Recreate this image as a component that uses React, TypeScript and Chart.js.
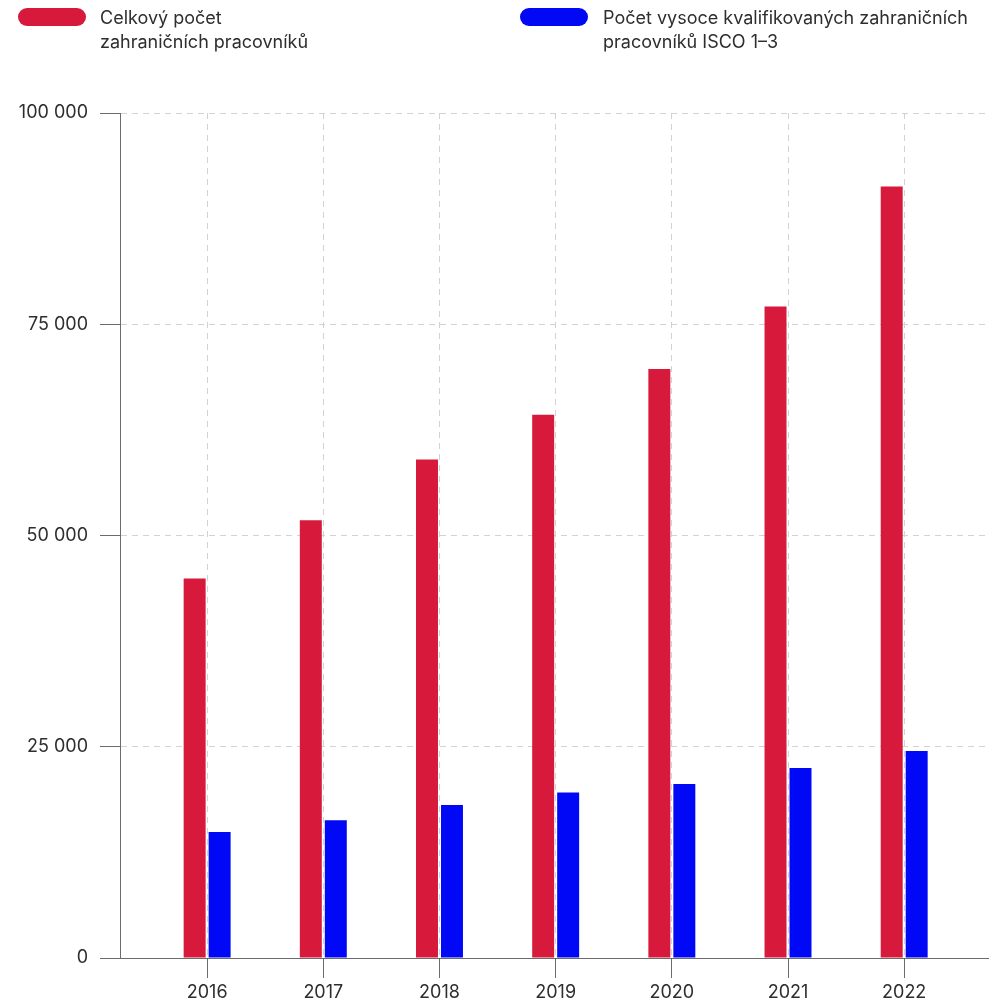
import React, { useEffect, useRef } from 'react';
import { Chart, registerables } from 'chart.js';

Chart.register(...registerables);

const years = ['2016', '2017', '2018', '2019', '2020', '2021', '2022'];
const totalWorkers = [44900, 51800, 59000, 64300, 69700, 77100, 91300];
const skilledWorkers = [14900, 16300, 18100, 19600, 20600, 22500, 24500];
const yTickStep = 25000;
const yMax = 100000;
const legendLabels = [
  ['Celkový počet', 'zahraničních pracovníků'],
  ['Počet vysoce kvalifikovaných zahraničních', 'pracovníků ISCO 1–3'],
];
const seriesColors = ['#d71a3b', '#0008f5'];

const FONT = 'Inter, "Noto Sans", sans-serif';
const TEXT = '#2e2e2e';
const AXIS = '#6b6b6b';
const GRID = '#d2d2d2';

const fmt = (v: number) => String(v).replace(/\B(?=(\d{3})+(?!\d))/g, ' ');

export default function App() {
  const ref = useRef<HTMLCanvasElement | null>(null);

  useEffect(() => {
    if (!ref.current) return;
    const chart = new Chart(ref.current, {
      type: 'bar',
      data: {
        labels: years,
        datasets: [
          {
            label: legendLabels[0].join(' '),
            data: totalWorkers,
            backgroundColor: seriesColors[0],
            categoryPercentage: 0.43,
            barPercentage: 0.88,
          },
          {
            label: legendLabels[1].join(' '),
            data: skilledWorkers,
            backgroundColor: seriesColors[1],
            categoryPercentage: 0.43,
            barPercentage: 0.88,
          },
        ],
      },
      options: {
        animation: false,
        responsive: false,
        maintainAspectRatio: false,
        layout: { padding: { top: 113, left: 0, right: 0, bottom: 0 } },
        plugins: {
          legend: { display: false },
          tooltip: { enabled: false },
        },
        scales: {
          x: {
            type: 'category',
            offset: true,
            afterBuildTicks: (scale: any) => {
              scale._startValue = -0.75;
              scale._valueRange = 7.48;
            },
            afterFit: (scale: any) => {
              scale.height = 43;
            },
            grid: {
              offset: false,
              color: GRID,
              tickColor: AXIS,
              tickLength: 20,
              tickWidth: 1,
              tickBorderDash: [],
            },
            border: { display: true, color: AXIS, width: 1, dash: [6, 5] },
            ticks: {
              color: TEXT,
              font: { family: FONT, size: 18 },
              padding: 4,
              maxRotation: 0,
            },
          },
          y: {
            min: 0,
            max: yMax,
            afterFit: (scale: any) => {
              scale.width = 120;
            },
            grid: {
              color: GRID,
              tickColor: AXIS,
              tickLength: 20,
              tickWidth: 1,
              tickBorderDash: [],
            },
            border: { display: true, color: AXIS, width: 1, dash: [6, 5] },
            ticks: {
              stepSize: yTickStep,
              color: TEXT,
              font: { family: FONT, size: 18 },
              padding: 12,
              callback: (v: any) => fmt(Number(v)),
            },
          },
        },
      },
    });
    return () => chart.destroy();
  }, []);

  const legendItem = (i: number, pillLeft: number, textLeft: number) => (
    <React.Fragment key={i}>
      <div
        style={{
          position: 'absolute',
          left: pillLeft,
          top: 8,
          width: 68,
          height: 18,
          borderRadius: 9,
          background: seriesColors[i],
        }}
      />
      <div
        style={{
          position: 'absolute',
          left: textLeft,
          top: 6,
          fontFamily: FONT,
          fontSize: 18,
          lineHeight: '24px',
          color: TEXT,
          whiteSpace: 'nowrap',
        }}
      >
        {legendLabels[i].map((l, j) => (
          <div key={j}>{l}</div>
        ))}
      </div>
    </React.Fragment>
  );

  return (
    <div
      style={{
        position: 'fixed',
        left: 0,
        top: 0,
        width: 989,
        height: 1001,
        background: '#fff',
        overflow: 'hidden',
      }}
    >
      <canvas
        ref={ref}
        width={989}
        height={1001}
        style={{ position: 'absolute', left: 0, top: 0, width: 989, height: 1001 }}
      />
      {legendItem(0, 18, 100)}
      {legendItem(1, 520, 603)}
    </div>
  );
}
